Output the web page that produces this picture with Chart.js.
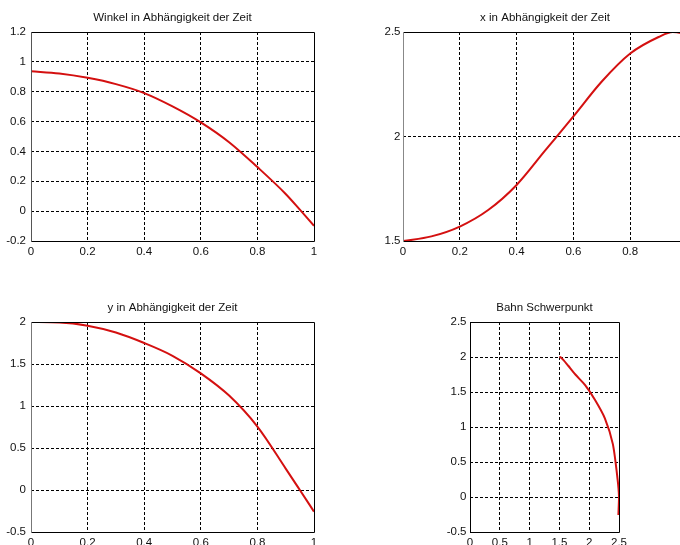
<!DOCTYPE html>
<html><head><meta charset="utf-8">
<script src="https://cdn.jsdelivr.net/npm/chart.js@4.4.1/dist/chart.umd.min.js"></script>
<style>
html,body{margin:0;padding:0;width:680px;height:545px;overflow:hidden;background:#fff;}
.box{position:absolute;}
canvas{display:block;}
</style></head><body>
<div class="box" id="b1"><canvas id="c1"></canvas></div>
<div class="box" id="b2"><canvas id="c2"></canvas></div>
<div class="box" id="b3"><canvas id="c3"></canvas></div>
<div class="box" id="b4"><canvas id="c4"></canvas></div>
<script>
// ---- data ----
const timeVals   = [0, 0.1, 0.2, 0.3, 0.4, 0.5, 0.6, 0.7, 0.8, 0.9, 0.95, 1.0];
const winkelVals = [0.937, 0.922, 0.893, 0.851, 0.791, 0.702, 0.595, 0.462, 0.295, 0.115, 0.01, -0.098];
const xVals      = [1.50, 1.522, 1.569, 1.648, 1.768, 1.932, 2.096, 2.263, 2.397, 2.476, 2.50, 2.49];
const yVals      = [2.0, 1.995, 1.956, 1.875, 1.750, 1.598, 1.389, 1.124, 0.755, 0.255, 0.0, -0.257];

const timeTicks   = [0, 0.2, 0.4, 0.6, 0.8, 1];
const winkelTicks = [-0.2, 0, 0.2, 0.4, 0.6, 0.8, 1, 1.2];
const xPosTicks   = [1.5, 2, 2.5];
const yPosTicks   = [-0.5, 0, 0.5, 1, 1.5, 2];
const bahnXTicks  = [0, 0.5, 1, 1.5, 2, 2.5];
const bahnYTicks  = [-0.5, 0, 0.5, 1, 1.5, 2, 2.5];

const titles = ['Winkel in Abhängigkeit der Zeit', 'x in Abhängigkeit der Zeit',
                'y in Abhängigkeit der Zeit', 'Bahn Schwerpunkt'];

// ---- styling ----
const FONT = "'Liberation Sans Narrow','Arial Narrow','Liberation Sans',Arial,sans-serif";
const FSIZE = 11.5;
const TITLE_H = 32, XAXIS_H = 30, RIGHT_PAD = 12;
const LINE_COLOR = '#d41010';

function align(p){ return Math.round(p - 0.5) + 0.5; }

const boxPlugin = {
  id: 'axbox',
  afterDraw(chart, args, opts) {
    const {ctx, chartArea: a} = chart;
    const l = align(a.left), r = align(a.right), t = align(a.top), b = align(a.bottom);
    ctx.save();
    ctx.lineWidth = 1;
    ctx.setLineDash([]);
    ctx.strokeStyle = '#000';
    ctx.beginPath();
    ctx.moveTo(l, t); ctx.lineTo(r, t); ctx.lineTo(r, b); ctx.lineTo(l, b);
    ctx.stroke();
    ctx.strokeStyle = opts.leftColor || '#000';
    ctx.beginPath();
    ctx.moveTo(l, t - 0.5); ctx.lineTo(l, b + 0.5);
    ctx.stroke();
    ctx.restore();
  }
};

function makeScale(min, max, ticks, isX, yPad, yW) {
  return {
    type: 'linear', min: min, max: max,
    afterBuildTicks: s => { s.ticks = ticks.map(v => ({value: v})); },
    afterFit: s => { if (isX) s.height = XAXIS_H; else s.width = yW; },
    grid: {
      drawTicks: false, lineWidth: 1,
      color: c => (c.tick && (c.tick.value === min || c.tick.value === max)) ? 'rgba(0,0,0,0)' : '#000'
    },
    border: { display: false, dash: [3, 2] },
    ticks: {
      font: { family: FONT, size: FSIZE }, color: '#111',
      padding: isX ? 4 : yPad, autoSkip: false, maxRotation: 0, minRotation: 0,
      callback: v => String(v)
    }
  };
}

function makeChart(n, cfg) {
  const W = cfg.yW + cfg.plotW + RIGHT_PAD;
  const H = TITLE_H + cfg.plotH + XAXIS_H;
  const box = document.getElementById('b' + n);
  box.style.left = cfg.left + 'px';
  box.style.top = cfg.top + 'px';
  box.style.width = W + 'px';
  box.style.height = H + 'px';
  const cv = document.getElementById('c' + n);
  cv.width = W; cv.height = H;
  cv.style.width = W + 'px'; cv.style.height = H + 'px';
  const points = cfg.xs.map((x, i) => ({x: x, y: cfg.ys[i]}));
  return new Chart(cv, {
    type: 'line',
    data: { datasets: [{
      data: points, borderColor: LINE_COLOR, borderWidth: 2, pointRadius: 0,
      fill: false, tension: cfg.tension || 0,
      cubicInterpolationMode: cfg.mono ? 'monotone' : 'default'
    }]},
    options: {
      responsive: false, animation: false, events: [],
      devicePixelRatio: 1,
      layout: { padding: { top: 0, left: 0, bottom: 0, right: RIGHT_PAD } },
      scales: {
        x: makeScale(cfg.xMin, cfg.xMax, cfg.xTicks, true, 3, cfg.yW),
        y: makeScale(cfg.yMin, cfg.yMax, cfg.yTicks, false, cfg.yPad, cfg.yW)
      },
      plugins: {
        legend: { display: false },
        tooltip: { enabled: false },
        title: {
          display: true, text: cfg.title, fullSize: false, color: '#111',
          font: { family: FONT, size: FSIZE, weight: 'normal', lineHeight: 1.2 },
          padding: { top: 10.5, bottom: 7.7 }
        },
        axbox: { leftColor: cfg.leftColor }
      }
    },
    plugins: [boxPlugin]
  });
}

makeChart(1, { left: 0, top: 0, yW: 31, plotW: 283, plotH: 209, yPad: 5,
  xs: timeVals, ys: winkelVals, xMin: 0, xMax: 1, xTicks: timeTicks,
  yMin: -0.2, yMax: 1.2, yTicks: winkelTicks, title: titles[0], mono: true, leftColor: '#555' });

makeChart(2, { left: 363, top: 0, yW: 40, plotW: 284, plotH: 209, yPad: 2.5,
  xs: timeVals, ys: xVals, xMin: 0, xMax: 1, xTicks: timeTicks,
  yMin: 1.5, yMax: 2.5, yTicks: xPosTicks, title: titles[1], mono: true, leftColor: '#888' });

makeChart(3, { left: 0, top: 290, yW: 31, plotW: 283, plotH: 210, yPad: 5,
  xs: timeVals, ys: yVals, xMin: 0, xMax: 1, xTicks: timeTicks,
  yMin: -0.5, yMax: 2, yTicks: yPosTicks, title: titles[2], mono: true, leftColor: '#777' });

makeChart(4, { left: 430, top: 290, yW: 40, plotW: 149, plotH: 210, yPad: 3.5,
  xs: xVals, ys: yVals, xMin: 0, xMax: 2.5, xTicks: bahnXTicks,
  yMin: -0.5, yMax: 2.5, yTicks: bahnYTicks, title: titles[3], tension: 0.25, leftColor: '#000' });
</script>
</body></html>
